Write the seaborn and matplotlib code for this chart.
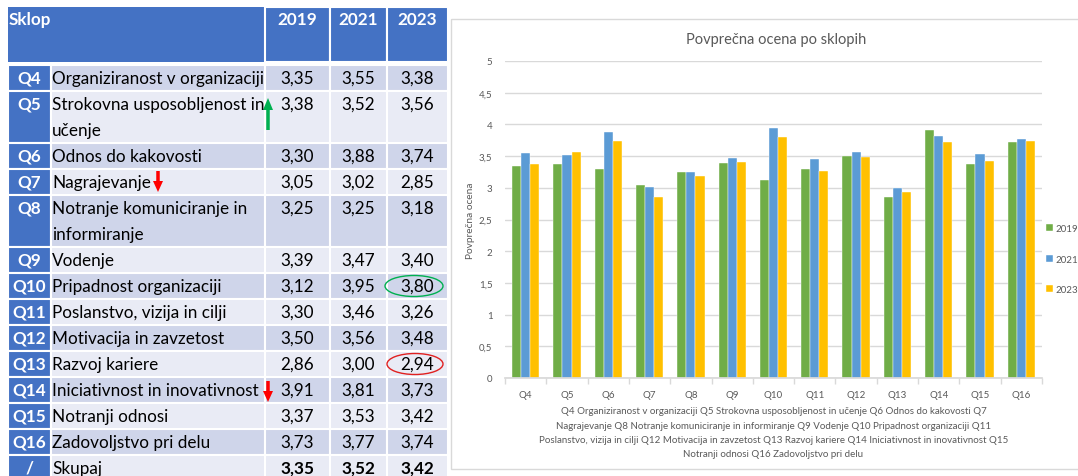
import matplotlib
matplotlib.use('Agg')
import matplotlib.pyplot as plt
import matplotlib.patches as mpatches
import seaborn as sns
import pandas as pd

codes = ['Q4', 'Q5', 'Q6', 'Q7', 'Q8', 'Q9', 'Q10', 'Q11', 'Q12', 'Q13', 'Q14', 'Q15', 'Q16']
names = ['Organiziranost v organizaciji', 'Strokovna usposobljenost in\nučenje',
         'Odnos do kakovosti', 'Nagrajevanje', 'Notranje komuniciranje in\ninformiranje',
         'Vodenje', 'Pripadnost organizaciji', 'Poslanstvo, vizija in cilji',
         'Motivacija in zavzetost', 'Razvoj kariere', 'Iniciativnost in inovativnost',
         'Notranji odnosi', 'Zadovoljstvo pri delu']
years = ['2019', '2021', '2023']
v2019 = [3.35, 3.38, 3.30, 3.05, 3.25, 3.39, 3.12, 3.30, 3.50, 2.86, 3.91, 3.37, 3.73]
v2021 = [3.55, 3.52, 3.88, 3.02, 3.25, 3.47, 3.95, 3.46, 3.56, 3.00, 3.81, 3.53, 3.77]
v2023 = [3.38, 3.56, 3.74, 2.85, 3.18, 3.40, 3.80, 3.26, 3.48, 2.94, 3.73, 3.42, 3.74]
total = [3.35, 3.52, 3.42]

blue = '#4472C4'
row_dark = '#CFD5EA'
row_light = '#E9EBF5'
colors = ['#70AD47', '#5B9BD5', '#FFC000']
gray = '#595959'

sns.set_theme(style='white')
plt.rcParams['font.family'] = ['Lato', 'DejaVu Sans']

W, H = 1078, 477
fig = plt.figure(figsize=(W / 100, H / 100), dpi=100)

# ---------- table on the left (axes in pixel units) ----------
tab = fig.add_axes([0, 0, 1, 1])
tab.set_xlim(0, W)
tab.set_ylim(H, 0)
tab.axis('off')

col_x = [8, 51, 265, 330, 387, 448]
fs = 12.3

# header
tab.add_patch(mpatches.Rectangle((col_x[0], 8), col_x[2] - col_x[0], 55, color=blue, lw=0))
for i in range(3):
    tab.add_patch(mpatches.Rectangle((col_x[2 + i], 8), col_x[3 + i] - col_x[2 + i], 55,
                                     facecolor=blue, edgecolor='white', lw=1.5))
tab.text(col_x[0] + 1, 20, 'Sklop', color='white', fontsize=fs, fontweight='bold', va='center')
for i, yr in enumerate(years):
    tab.text((col_x[2 + i] + col_x[3 + i]) / 2, 20, yr, color='white', fontsize=fs,
             fontweight='bold', ha='center', va='center')

rows = list(zip(codes, names, v2019, v2021, v2023)) + [('/', 'Skupaj', *total)]
top = 66
for r, (code, name, a, b, c) in enumerate(rows):
    h = 26 * (name.count('\n') + 1)
    shade = row_dark if r % 2 == 0 else row_light
    tab.add_patch(mpatches.Rectangle((col_x[0], top), col_x[1] - col_x[0], h,
                                     facecolor=blue, edgecolor='white', lw=1.5))
    tab.add_patch(mpatches.Rectangle((col_x[1], top), col_x[2] - col_x[1], h,
                                     facecolor=shade, edgecolor='white', lw=1.5))
    for i in range(3):
        tab.add_patch(mpatches.Rectangle((col_x[2 + i], top), col_x[3 + i] - col_x[2 + i], h,
                                         facecolor=shade, edgecolor='white', lw=1.5))
    tab.text((col_x[0] + col_x[1]) / 2, top + 13, code, color='white', fontsize=fs,
             fontweight='bold', ha='center', va='center')
    for k, line in enumerate(name.split('\n')):
        tab.text(col_x[1] + 1, top + 13 + 26 * k, line, color='black', fontsize=fs, va='center')
    wt = 'bold' if code == '/' else 'normal'
    for i, v in enumerate([a, b, c]):
        tab.text((col_x[2 + i] + col_x[3 + i]) / 2, top + 13, f'{v:.2f}'.replace('.', ','),
                 color='black', fontsize=fs, fontweight=wt, ha='center', va='center')
    top += h

# annotations drawn on the table
tab.add_patch(mpatches.FancyArrow(268, 131, 0, -20, width=3.5, head_width=10, head_length=12,
                                  color='#00B050', lw=0))
tab.add_patch(mpatches.FancyArrow(158, 172, 0, 10, width=3.5, head_width=10, head_length=11,
                                  color='#FF0000', lw=0))
tab.add_patch(mpatches.FancyArrow(268, 382, 0, 10, width=3.5, head_width=10, head_length=11,
                                  color='#FF0000', lw=0))
tab.add_patch(mpatches.Ellipse((414, 287), 58, 21, fill=False, edgecolor='#00B050', lw=1))
tab.add_patch(mpatches.Ellipse((415, 365), 56, 21, fill=False, edgecolor='#E02020', lw=1))

# chart frame
tab.add_patch(mpatches.Rectangle((451, 20), 640, 450, fill=False, edgecolor='#D9D9D9', lw=1))

# ---------- bar chart on the right ----------
df = pd.DataFrame({'Sklop': codes * 3,
                   'Leto': [y for y in years for _ in codes],
                   'Ocena': v2019 + v2021 + v2023})

x0, x1, y0, y1 = 505, 1042, 62, 379
ax = fig.add_axes([x0 / W, 1 - y1 / H, (x1 - x0) / W, (y1 - y0) / H])
sns.barplot(data=df, x='Sklop', y='Ocena', hue='Leto', palette=colors, saturation=1,
            width=0.66, edgecolor='white', linewidth=0.3, ax=ax)
ax.set_ylim(0, 5)
ax.set_xlim(-0.5, len(codes) - 0.5)
yt = [i * 0.5 for i in range(11)]
ax.set_yticks(yt)
ax.set_yticklabels([f'{t:g}'.replace('.', ',') for t in yt])
ax.yaxis.grid(True, color='#D9D9D9', lw=1)
ax.set_axisbelow(True)
for s in ['top', 'right', 'left']:
    ax.spines[s].set_visible(False)
ax.spines['bottom'].set_color('#D9D9D9')
ax.set_xticks([i + 0.5 for i in range(-1, len(codes))], minor=True)
ax.tick_params(axis='x', which='minor', length=4, color='#D9D9D9', bottom=True)
ax.tick_params(axis='x', which='major', length=0, pad=9, labelsize=7, labelcolor=gray)
ax.tick_params(axis='y', length=0, pad=9, labelsize=7, labelcolor=gray)
ax.set_ylabel('Povprečna ocena', fontsize=7.3, color=gray, labelpad=3)
ax.set_xlabel('Q4 Organiziranost v organizaciji Q5 Strokovna usposobljenost in učenje Q6 Odnos do kakovosti Q7\n'
              'Nagrajevanje Q8 Notranje komuniciranje in informiranje Q9 Vodenje Q10 Pripadnost organizaciji Q11\n'
              'Poslanstvo, vizija in cilji Q12 Motivacija in zavzetost Q13 Razvoj kariere Q14 Iniciativnost in inovativnost Q15\n'
              'Notranji odnosi Q16 Zadovoljstvo pri delu',
              fontsize=7, color=gray, linespacing=1.75, labelpad=5)
ax.legend(loc='center left', bbox_to_anchor=(1.0, 0.375), frameon=False, fontsize=7,
          handlelength=0.7, handleheight=0.7, handletextpad=0.3, labelspacing=2.2,
          borderaxespad=0, labelcolor=gray)
fig.text(776 / W, 1 - 40 / H, 'Povprečna ocena po sklopih', fontsize=10.5, color=gray,
         ha='center', va='center')

fig.savefig('out.png', dpi=100)
